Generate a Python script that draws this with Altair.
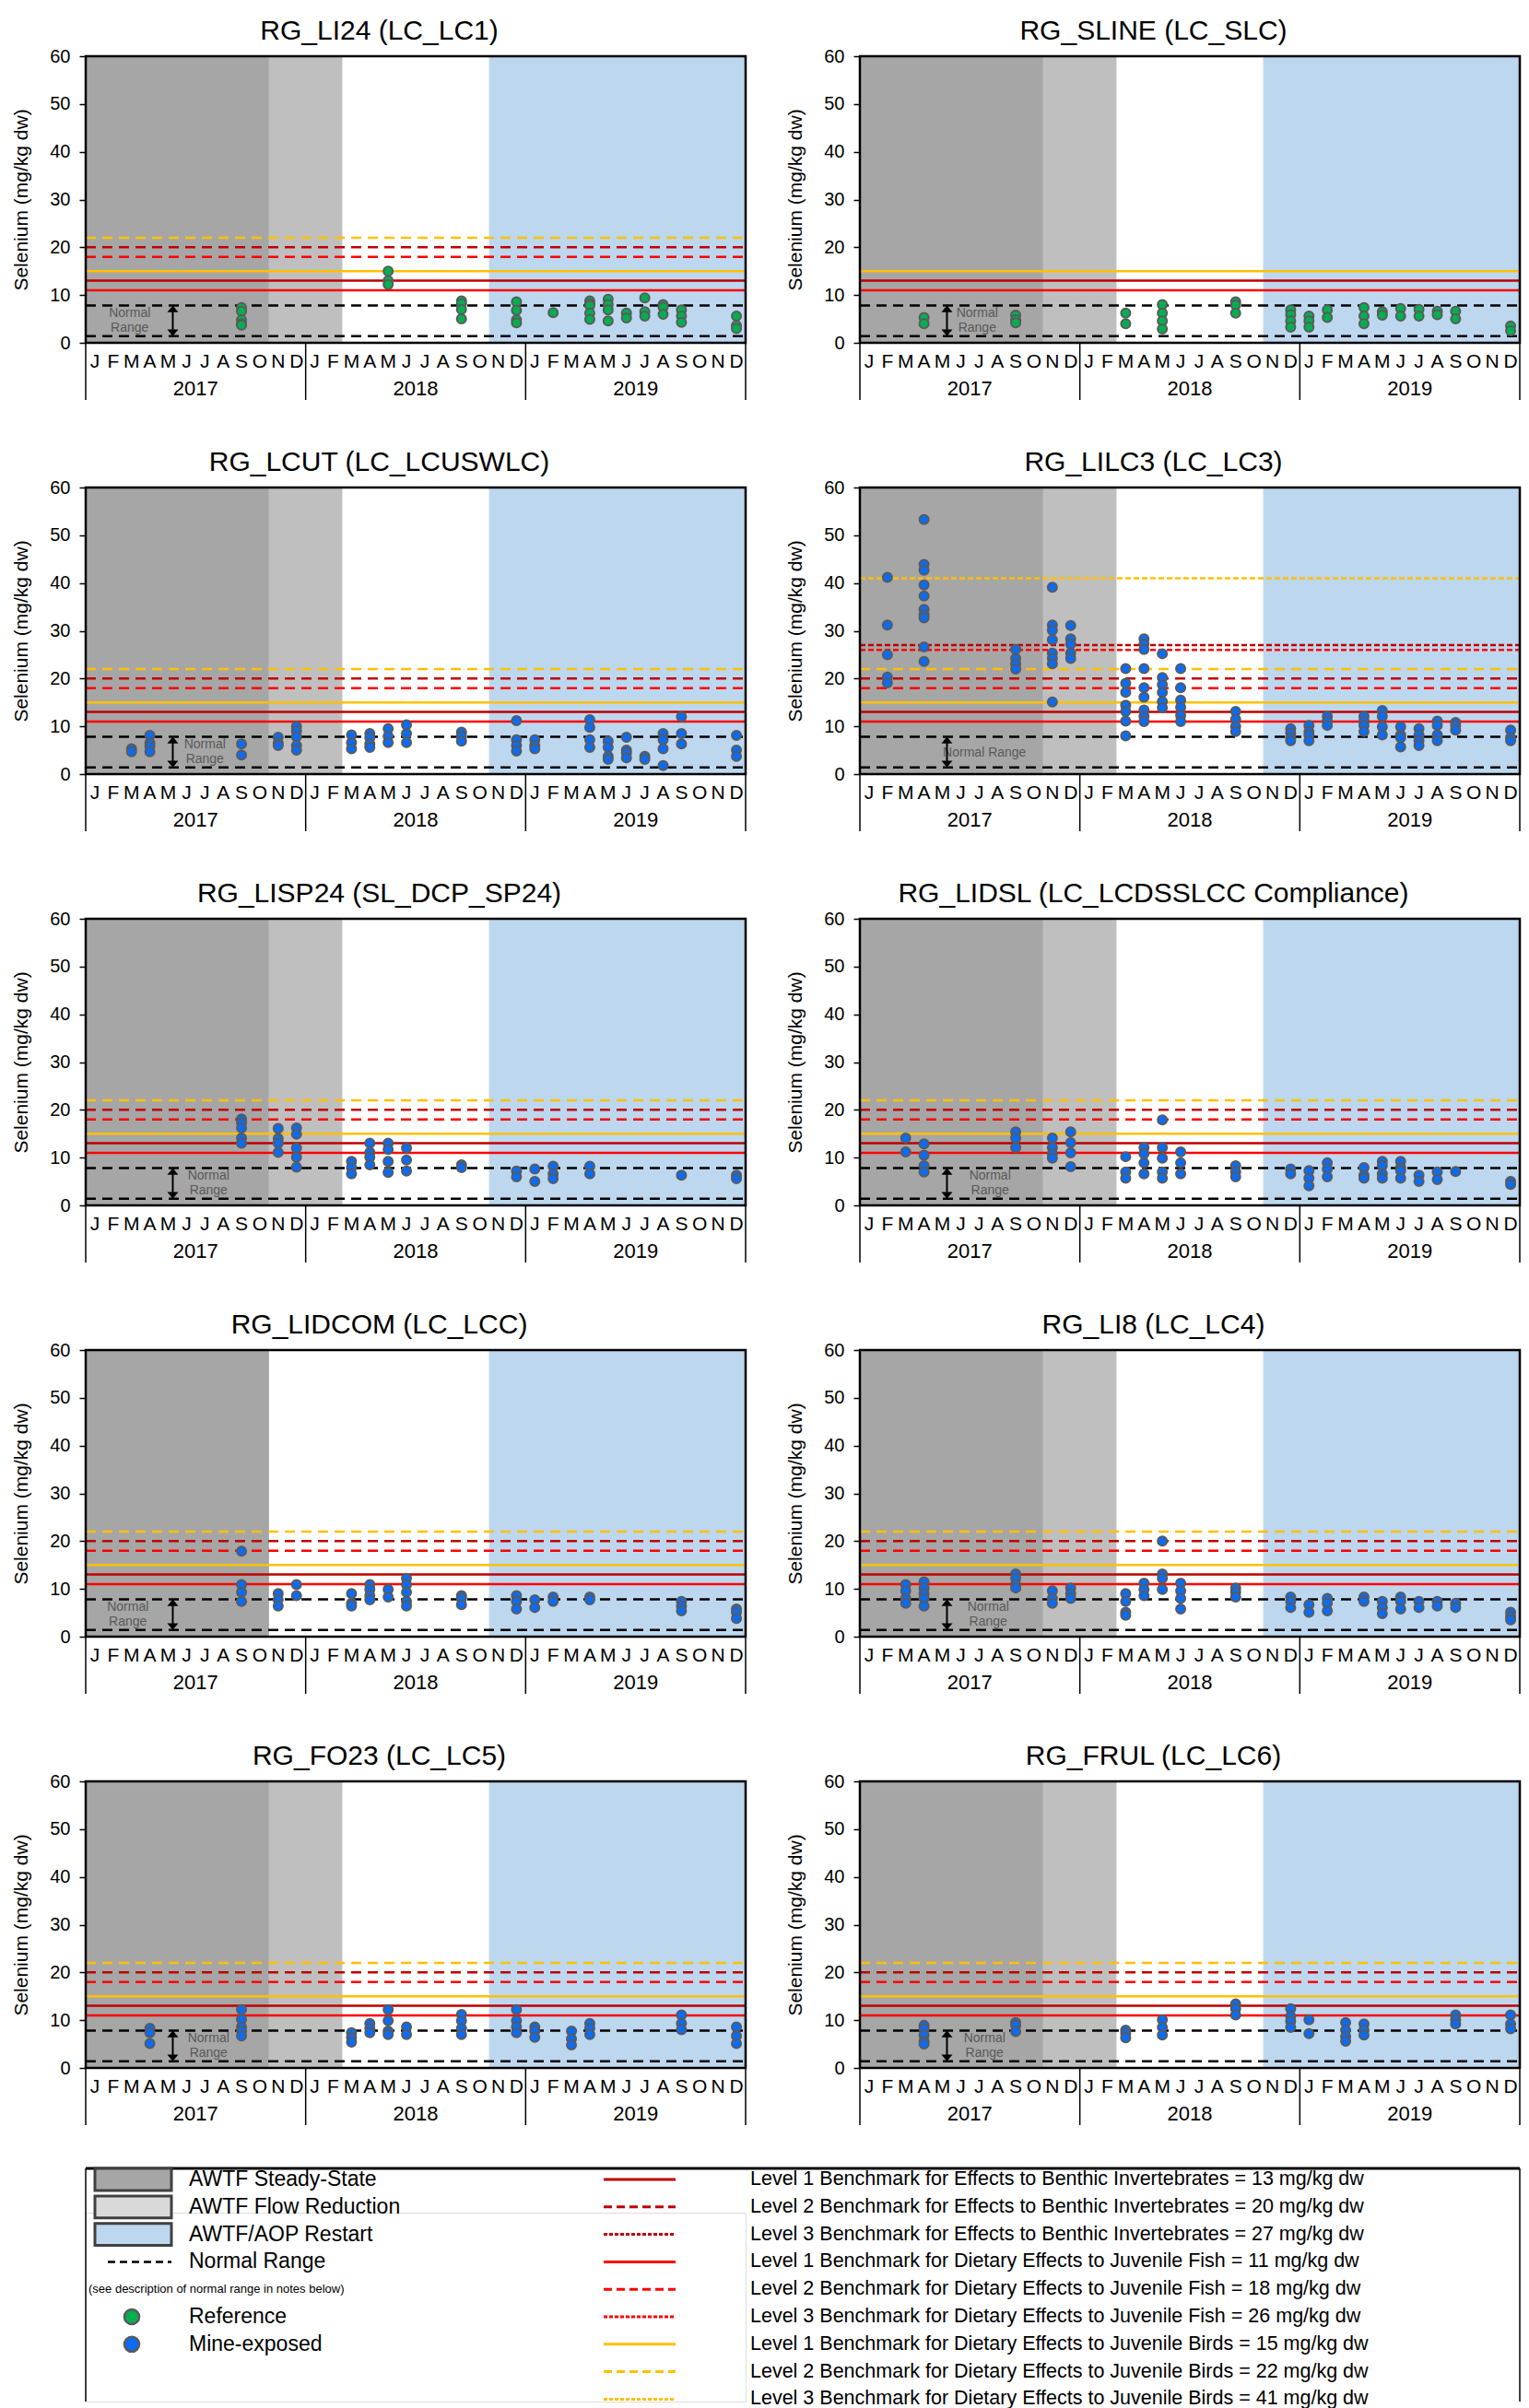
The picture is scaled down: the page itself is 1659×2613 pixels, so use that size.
import altair as alt
import pandas as pd

FONT = "Liberation Sans, Arial, Helvetica, sans-serif"
W, H = 716, 311

MONTH_LETTERS = ["J", "F", "M", "A", "M", "J", "J", "A", "S", "O", "N", "D"]
YEARS = ["2017", "2018", "2019"]
YEAR_CENTERS = [6, 18, 30]
YEAR_BOUNDS = [0, 12, 24, 36]
Y_TICKS = [0, 10, 20, 30, 40, 50, 60]

BAND_NAMES = ["AWTF Steady-State", "AWTF Flow Reduction", "AWTF/AOP Restart"]
BAND_COLORS = ["#A6A6A6", "#BFBFBF", "#BDD7EE"]
SWATCH_COLORS = ["#A6A6A6", "#D9D9D9", "#BDD7EE"]
BAND_START = [0, 10, 22]
BAND_END = [10, 14, 36]

BENCH_NAMES = ["B1", "B2", "B3", "F1", "F2", "F3", "R1", "R2", "R3"]
BENCH_VALUES = [13, 20, 27, 11, 18, 26, 15, 22, 41]
BENCH_COLORS = ["#C00000", "#C00000", "#C00000", "#FF0000", "#FF0000", "#FF0000",
                "#FFC000", "#FFC000", "#FFC000"]
BENCH_DASH = [[1, 0], [11, 7], [6, 3]] * 3
LEGEND_DASH = [[1, 0], [9, 5], [4, 2]] * 3
BENCH_LABELS = [
    "Level 1 Benchmark for Effects to Benthic Invertebrates = 13 mg/kg dw",
    "Level 2 Benchmark for Effects to Benthic Invertebrates = 20 mg/kg dw",
    "Level 3 Benchmark for Effects to Benthic Invertebrates = 27 mg/kg dw",
    "Level 1 Benchmark for Dietary Effects to Juvenile Fish = 11 mg/kg dw",
    "Level 2 Benchmark for Dietary Effects to Juvenile Fish = 18 mg/kg dw",
    "Level 3 Benchmark for Dietary Effects to Juvenile Fish = 26 mg/kg dw",
    "Level 1 Benchmark for Dietary Effects to Juvenile Birds  = 15 mg/kg dw",
    "Level 2 Benchmark for Dietary Effects to Juvenile Birds  = 22 mg/kg dw",
    "Level 3 Benchmark for Dietary Effects to Juvenile Birds  = 41 mg/kg dw",
]
L1 = [0, 3, 6]
L12 = [0, 1, 3, 4, 6, 7]
LALL = [0, 1, 2, 3, 4, 5, 6, 7, 8]

NORMAL_RANGE = [1.4, 7.8]
GROUP_NAMES = ["Reference", "Mine-exposed"]
GROUP_COLORS = ["#00B050", "#0A6CF5"]
POINT_STROKE = "#5A5A5A"

PANEL_TITLES = ["RG_LI24 (LC_LC1)", "RG_SLINE (LC_SLC)", "RG_LCUT (LC_LCUSWLC)",
                "RG_LILC3 (LC_LC3)", "RG_LISP24 (SL_DCP_SP24)",
                "RG_LIDSL (LC_LCDSSLCC Compliance)", "RG_LIDCOM (LC_LCC)",
                "RG_LI8 (LC_LC4)", "RG_FO23 (LC_LC5)", "RG_FRUL (LC_LC6)"]
PANEL_GROUP = [0, 0, 1, 1, 1, 1, 1, 1, 1, 1]
PANEL_BANDS = [[0, 1, 2]] * 6 + [[0, 2]] + [[0, 1, 2]] * 3
PANEL_BENCH = [L12, L1, L12, LALL, L12, L12, L12, L12, L12, L12]
NR_ARROW_X = 4.75
NR_TEXT_X = [2.4, 6.4, 6.5, 6.8, 6.7, 7.1, 2.3, 7.0, 6.7, 6.8]
NR_ONE_LINE = [False, False, False, True, False, False, False, False, False, False]

# month index: 0 = Jan 2017 ... 35 = Dec 2019
LI24_MONTHS = [8, 16, 20, 23, 25, 27, 28, 29, 30, 31, 32, 35]
LI24_VALUES = [[7.4, 6.6, 4.8, 4.0, 3.7], [15.0, 13.0, 12.2], [8.8, 8.2, 7.0, 5.0],
               [8.6, 6.8, 4.8, 4.2], [6.3], [8.8, 8.2, 7.8, 6.2, 4.9], [9.1, 8.0, 6.9, 4.6],
               [6.2, 5.2], [9.4, 6.5, 5.6], [8.0, 7.5, 6.0], [6.9, 5.6, 4.3], [5.6, 3.6, 3.0]]

SLINE_MONTHS = [3, 8, 14, 16, 20, 23, 24, 25, 27, 28, 29, 30, 31, 32, 35]
SLINE_VALUES = [[5.3, 4.0], [5.8, 4.8, 4.2], [6.2, 4.0], [8.0, 6.2, 4.6, 2.9], [8.6, 7.9, 6.2],
                [6.9, 5.9, 4.6, 3.3], [5.6, 4.6, 3.3], [6.9, 5.3], [7.4, 5.6, 4.0], [6.5, 5.8],
                [7.2, 5.6], [7.0, 5.6], [6.6, 5.9], [6.6, 5.0], [3.5, 2.5]]

LCUT_MONTHS = [2, 3, 8, 10, 11, 14, 15, 16, 17, 20, 23, 24, 27, 28, 29, 30, 31, 32, 35]
LCUT_VALUES = [[5.3, 4.7], [8.1, 6.5, 5.8, 4.7], [6.3, 4.0], [7.7, 6.5, 6.0],
               [10.0, 9.0, 7.8, 6.0, 5.0], [8.2, 6.6, 5.3], [8.5, 7.6, 6.3, 5.6], [9.5, 7.9, 6.6],
               [10.3, 8.5, 6.6], [8.8, 7.9, 6.9], [11.2, 7.2, 6.0, 4.8], [7.2, 6.0, 5.3],
               [11.4, 9.8, 7.2, 5.6], [6.9, 5.6, 3.7, 3.1], [7.7, 5.0, 4.4, 3.4], [3.7, 3.1],
               [8.5, 7.2, 5.3, 1.8], [12.0, 8.5, 6.3], [8.1, 5.0, 3.7]]

LILC3_MONTHS = [1, 3, 8, 10, 11, 14, 15, 16, 17, 20, 23, 24, 25, 27, 28, 29, 30, 31, 32, 35]
LILC3_VALUES = [[41.2, 31.2, 25.0, 20.3, 19.1],
                [53.3, 43.9, 42.7, 39.6, 37.3, 34.5, 33.4, 32.7, 26.6, 23.6],
                [26.1, 24.2, 23.1, 22.0],
                [39.1, 31.2, 30.1, 28.1, 25.3, 24.2, 23.1, 15.1],
                [31.1, 28.3, 27.2, 25.3, 24.2],
                [22.1, 19.0, 17.1, 14.4, 13.1, 11.1, 8.0],
                [28.3, 27.2, 26.1, 22.1, 18.1, 16.1, 13.4, 12.1, 11.0],
                [25.2, 20.2, 18.7, 17.1, 15.2, 13.9],
                [22.1, 18.1, 15.5, 14.0, 12.3, 11.0],
                [13.1, 11.5, 10.0, 8.9], [9.5, 8.6, 7.6, 7.0], [10.2, 8.9, 8.2, 7.0],
                [12.1, 11.1, 10.2], [12.1, 11.1, 10.2, 8.9], [13.3, 12.1, 9.9, 8.2],
                [9.9, 8.2, 7.6, 5.7], [9.5, 8.2, 7.0, 6.0], [11.1, 10.2, 8.2, 7.0],
                [10.8, 10.2, 9.2], [9.2, 7.6, 7.0]]

LISP24_MONTHS = [8, 10, 11, 14, 15, 16, 17, 20, 23, 24, 25, 27, 32, 35]
LISP24_VALUES = [[18.1, 17.3, 16.2, 14.1, 13.0], [16.1, 14.0, 13.0, 11.1],
                 [16.2, 14.9, 12.0, 10.1, 8.0], [9.2, 7.9, 6.6], [13.0, 11.1, 10.1, 8.5],
                 [13.0, 11.7, 9.2, 6.9], [12.0, 9.5, 7.2], [8.5, 7.9], [7.2, 6.0], [7.6, 5.0],
                 [8.2, 6.6, 5.6], [8.2, 6.6], [6.3], [6.3, 5.6]]

LIDSL_MONTHS = [2, 3, 8, 10, 11, 14, 15, 16, 17, 20, 23, 24, 25, 27, 28, 29, 30, 31, 32, 35]
LIDSL_VALUES = [[14.1, 11.2], [12.9, 10.5, 8.3, 7.0], [15.4, 14.1, 12.1], [14.1, 12.1, 10.8, 9.9],
                [15.4, 13.1, 11.0, 8.1], [10.2, 7.0, 5.7], [12.1, 10.8, 8.9, 6.6],
                [17.9, 12.1, 9.9, 7.0, 5.7], [11.2, 8.9, 6.6], [8.3, 7.0, 6.0], [7.6, 6.6],
                [7.3, 5.7, 4.1], [8.9, 7.6, 6.0], [7.9, 6.3, 5.7], [9.2, 8.3, 6.6, 5.7],
                [9.2, 7.9, 7.3, 5.7], [6.3, 5.0], [7.0, 5.4], [7.1], [5.0, 4.4]]

LIDCOM_MONTHS = [8, 10, 11, 14, 15, 16, 17, 20, 23, 24, 25, 27, 32, 35]
LIDCOM_VALUES = [[17.9, 10.9, 9.3, 7.4], [9.0, 7.7, 6.4], [10.9, 8.6], [9.0, 7.0, 6.4],
                 [10.9, 9.9, 8.6, 7.7], [9.9, 8.3], [12.2, 10.9, 9.3, 7.4, 6.4], [8.6, 8.0, 6.7],
                 [8.6, 7.4, 5.8], [7.7, 6.1], [8.3, 7.4], [8.3, 7.7], [7.4, 6.4, 5.4],
                 [5.8, 5.1, 3.8]]

LI8_MONTHS = [2, 3, 8, 10, 11, 14, 15, 16, 17, 20, 23, 24, 25, 27, 28, 29, 30, 31, 32, 35]
LI8_VALUES = [[10.9, 9.6, 8.0, 7.0], [11.5, 10.2, 9.0, 8.0, 6.4], [13.1, 12.2, 10.9, 10.2],
              [9.6, 8.0, 7.0], [10.2, 9.0, 8.0], [9.0, 7.4, 5.1, 4.5], [11.2, 9.9, 8.6],
              [20.0, 13.1, 12.2, 9.9], [11.2, 9.6, 8.0, 5.8], [10.2, 9.3, 8.3], [8.3, 7.4, 6.1],
              [6.7, 5.1], [8.0, 7.0, 5.4], [8.3, 7.4], [7.4, 6.1, 4.8], [8.3, 7.4, 5.8],
              [7.4, 6.1], [7.4, 6.4], [7.0, 6.1], [5.1, 4.2, 3.5]]

FO23_MONTHS = [3, 8, 14, 15, 16, 17, 20, 23, 24, 26, 27, 32, 35]
FO23_VALUES = [[8.3, 7.4, 5.1], [12.2, 10.2, 8.6, 7.7, 6.7], [7.4, 6.4, 5.4], [9.3, 8.3, 7.4],
               [12.2, 9.9, 7.7, 7.0], [8.6, 7.0], [11.2, 9.9, 8.3, 7.0], [12.2, 9.9, 8.6, 7.4],
               [8.6, 7.7, 6.4], [7.7, 6.1, 4.8], [9.3, 8.3, 7.0], [11.1, 9.3, 8.0],
               [8.6, 6.7, 5.1]]

FRUL_MONTHS = [3, 8, 14, 16, 20, 23, 24, 26, 27, 32, 35]
FRUL_VALUES = [[8.9, 8.2, 6.9, 5.6, 5.0], [9.5, 8.9, 7.6], [7.9, 7.2, 6.3], [10.1, 8.5, 6.9],
               [13.4, 12.4, 11.1], [12.4, 10.8, 9.8, 8.5], [10.1, 7.2], [9.5, 7.9, 6.6, 5.6],
               [9.2, 7.9, 6.9], [11.1, 10.1, 9.2], [11.1, 9.2, 8.2]]

PANEL_DATA = [(LI24_MONTHS, LI24_VALUES), (SLINE_MONTHS, SLINE_VALUES),
              (LCUT_MONTHS, LCUT_VALUES), (LILC3_MONTHS, LILC3_VALUES),
              (LISP24_MONTHS, LISP24_VALUES), (LIDSL_MONTHS, LIDSL_VALUES),
              (LIDCOM_MONTHS, LIDCOM_VALUES), (LI8_MONTHS, LI8_VALUES),
              (FO23_MONTHS, FO23_VALUES), (FRUL_MONTHS, FRUL_VALUES)]

ARROW_UP = "M-1,0.6L0,-0.6L1,0.6Z"
ARROW_DOWN = "M-1,-0.6L0,0.6L1,-0.6Z"


def make_panel(idx):
    months, values = PANEL_DATA[idx]
    xs = alt.Scale(domain=[0, 36], nice=False, zero=False)
    ys = alt.Scale(domain=[0, 60], nice=False, zero=False)
    yaxis = alt.Axis(values=Y_TICKS, title="Selenium (mg/kg dw)", grid=False,
                     tickSize=7, tickWidth=1.5, tickColor="black",
                     domainColor="black", domainWidth=2,
                     labelFont=FONT, labelFontSize=20, labelColor="black", labelPadding=10,
                     titleFont=FONT, titleFontSize=21, titleFontWeight="normal",
                     titleColor="black", titlePadding=20)

    def X(f):
        return alt.X(f, scale=xs, axis=None)

    def Y(f):
        return alt.Y(f, scale=ys, axis=yaxis)

    bids = PANEL_BANDS[idx]
    band_df = pd.DataFrame({"band": [BAND_NAMES[i] for i in bids],
                            "start": [BAND_START[i] for i in bids],
                            "end": [BAND_END[i] for i in bids]})
    bands = alt.Chart(band_df).mark_rect().encode(
        x=X("start:Q"), x2="end:Q", y=alt.value(0), y2=alt.value(H),
        fill=alt.Fill("band:N", scale=alt.Scale(domain=BAND_NAMES, range=BAND_COLORS),
                      legend=None))

    keys = PANEL_BENCH[idx]
    bench_df = pd.DataFrame({"name": [BENCH_NAMES[i] for i in keys],
                             "v": [BENCH_VALUES[i] for i in keys]})
    bench = alt.Chart(bench_df).mark_rule(strokeWidth=2.5).encode(
        y=Y("v:Q"), x=alt.value(0), x2=alt.value(W),
        color=alt.Color("name:N", scale=alt.Scale(domain=BENCH_NAMES, range=BENCH_COLORS),
                        legend=None),
        strokeDash=alt.StrokeDash("name:N",
                                  scale=alt.Scale(domain=BENCH_NAMES, range=BENCH_DASH),
                                  legend=None))

    lo, hi = NORMAL_RANGE
    nr = alt.Chart(pd.DataFrame({"v": NORMAL_RANGE})).mark_rule(
        color="black", strokeWidth=2.5, strokeDash=[11, 7]).encode(
        y=Y("v:Q"), x=alt.value(0), x2=alt.value(W))

    tx = NR_TEXT_X[idx]
    if NR_ONE_LINE[idx]:
        nr_text_df = pd.DataFrame({"x": [tx], "y": [(lo + hi) / 2 - 0.1], "t": ["Normal Range"]})
    else:
        nr_text_df = pd.DataFrame({"x": [tx, tx], "y": [hi - 1.7, lo + 1.6],
                                   "t": ["Normal", "Range"]})
    nr_text = alt.Chart(nr_text_df).mark_text(
        font=FONT, fontSize=14, color="#595959", align="center", baseline="middle").encode(
        x=X("x:Q"), y=Y("y:Q"), text="t:N")

    arrow = alt.Chart(pd.DataFrame({"x": [NR_ARROW_X], "a": [lo + 0.7], "b": [hi - 0.7]})).mark_rule(
        color="black", strokeWidth=2).encode(x=X("x:Q"), y=Y("a:Q"), y2="b:Q")
    head_up = alt.Chart(pd.DataFrame({"x": [NR_ARROW_X], "y": [hi - 0.7]})).mark_point(
        shape=ARROW_UP, filled=True, color="black", size=144, opacity=1).encode(
        x=X("x:Q"), y=Y("y:Q"))
    head_dn = alt.Chart(pd.DataFrame({"x": [NR_ARROW_X], "y": [lo + 0.7]})).mark_point(
        shape=ARROW_DOWN, filled=True, color="black", size=144, opacity=1).encode(
        x=X("x:Q"), y=Y("y:Q"))

    rows = []
    for m, vs in zip(months, values):
        for v in vs:
            rows.append({"m": m + 0.5, "v": v})
    pts = alt.Chart(pd.DataFrame(rows)).mark_circle(
        size=100, fill=GROUP_COLORS[PANEL_GROUP[idx]], stroke=POINT_STROKE,
        strokeWidth=2, opacity=1).encode(x=X("m:Q"), y=Y("v:Q"))

    month_df = pd.DataFrame({"m": [i + 0.5 for i in range(36)], "t": MONTH_LETTERS * 3})
    month_txt = alt.Chart(month_df).mark_text(
        font=FONT, fontSize=21, color="black", align="center", baseline="middle").encode(
        x=X("m:Q"), y=alt.value(H + 21), text="t:N")
    year_txt = alt.Chart(pd.DataFrame({"m": YEAR_CENTERS, "t": YEARS})).mark_text(
        font=FONT, fontSize=22, color="black", align="center", baseline="middle").encode(
        x=X("m:Q"), y=alt.value(H + 50), text="t:N")
    seps = alt.Chart(pd.DataFrame({"m": YEAR_BOUNDS})).mark_rule(
        color="black", strokeWidth=1.5).encode(x=X("m:Q"), y=alt.value(H), y2=alt.value(H + 62))

    frame = alt.Chart(pd.DataFrame({"a": [0]})).mark_rect(
        fillOpacity=0, stroke="black", strokeWidth=2.5).encode(
        x=alt.value(0), x2=alt.value(W), y=alt.value(0), y2=alt.value(H))

    return alt.layer(bands, bench, nr, nr_text, arrow, head_up, head_dn, pts,
                     month_txt, year_txt, seps, frame).properties(
        width=W, height=H,
        title=alt.TitleParams(PANEL_TITLES[idx], font=FONT, fontSize=30,
                              fontWeight="normal", color="black", offset=2,
                              anchor="middle", frame="bounds"))


panels = [make_panel(i) for i in range(10)]

# ---------------- legend ----------------
LEG_W_FULL = 2 * W + 124
LEG_H = 205
LEG_TOP = -48
ROW0 = -36
PITCH = 29.8
lys = alt.Scale(domain=[0, 8], range=[ROW0, ROW0 + 8 * PITCH])


def LY(f):
    return alt.Y(f, scale=lys, axis=None)


LEFT_LABELS = ["AWTF Steady-State", "AWTF Flow Reduction", "AWTF/AOP Restart", "Normal Range",
               "Reference", "Mine-exposed"]
LEFT_ROWS = [0, 1, 2, 3, 5, 6]
NOTE_LABEL = "(see description of normal range in notes below)"

border_top = alt.Chart(pd.DataFrame({"a": [0]})).mark_rule(color="black", strokeWidth=3).encode(
    x=alt.value(0), x2=alt.value(LEG_W_FULL), y=alt.value(LEG_TOP))
border_l = alt.Chart(pd.DataFrame({"a": [0]})).mark_rule(color="black", strokeWidth=1.5).encode(
    x=alt.value(0), y=alt.value(LEG_TOP), y2=alt.value(LEG_H))
border_r = alt.Chart(pd.DataFrame({"a": [0]})).mark_rule(color="black", strokeWidth=1.5).encode(
    x=alt.value(LEG_W_FULL), y=alt.value(LEG_TOP), y2=alt.value(LEG_H))

sw_df = pd.DataFrame({"band": BAND_NAMES, "row": [0, 1, 2]})
swatches = alt.Chart(sw_df).transform_calculate(
    a="datum.row - 0.4", b="datum.row + 0.4").mark_rect(
    stroke="#404040", strokeWidth=3).encode(
    x=alt.value(10), x2=alt.value(93), y=LY("a:Q"), y2="b:Q",
    fill=alt.Fill("band:N", scale=alt.Scale(domain=BAND_NAMES, range=SWATCH_COLORS),
                  legend=None))

left_txt = alt.Chart(pd.DataFrame({"t": LEFT_LABELS, "row": LEFT_ROWS})).mark_text(
    font=FONT, fontSize=23, color="black", align="left", baseline="middle").encode(
    x=alt.value(112), y=LY("row:Q"), text="t:N")
note_txt = alt.Chart(pd.DataFrame({"t": [NOTE_LABEL], "row": [4]})).mark_text(
    font=FONT, fontSize=13, color="black", align="left", baseline="middle").encode(
    x=alt.value(3), y=LY("row:Q"), text="t:N")
nr_sample = alt.Chart(pd.DataFrame({"row": [3]})).mark_rule(
    color="black", strokeWidth=2.5, strokeDash=[8, 5]).encode(
    x=alt.value(24), x2=alt.value(93), y=LY("row:Q"))
dot_ref = alt.Chart(pd.DataFrame({"g": [GROUP_NAMES[0]], "row": [5]})).mark_point(
    shape="circle", filled=True, size=260, fill=GROUP_COLORS[0], stroke=POINT_STROKE,
    strokeWidth=2.5, opacity=1).encode(x=alt.value(50), y=LY("row:Q"))
dot_mine = alt.Chart(pd.DataFrame({"g": [GROUP_NAMES[1]], "row": [6]})).mark_point(
    shape="circle", filled=True, size=260, fill=GROUP_COLORS[1], stroke=POINT_STROKE,
    strokeWidth=2.5, opacity=1).encode(x=alt.value(50), y=LY("row:Q"))

bl_df = pd.DataFrame({"name": BENCH_NAMES, "row": list(range(9)), "t": BENCH_LABELS})
bench_lines = alt.Chart(bl_df).mark_rule(strokeWidth=3).encode(
    x=alt.value(562), x2=alt.value(640), y=LY("row:Q"),
    color=alt.Color("name:N", scale=alt.Scale(domain=BENCH_NAMES, range=BENCH_COLORS),
                    legend=None),
    strokeDash=alt.StrokeDash("name:N", scale=alt.Scale(domain=BENCH_NAMES, range=LEGEND_DASH),
                              legend=None))
bench_txt = alt.Chart(bl_df).mark_text(
    font=FONT, fontSize=21.5, color="black", align="left", baseline="middle").encode(
    x=alt.value(721), y=LY("row:Q"), text="t:N")

legend = alt.layer(border_top, border_l, border_r, swatches, left_txt, note_txt, nr_sample,
                   dot_ref, dot_mine, bench_lines, bench_txt).properties(width=W, height=LEG_H)

chart = alt.concat(*panels, legend, columns=2, spacing={"row": 157, "column": 124},
                   bounds="flush").resolve_scale(
    fill="independent", color="independent", strokeDash="independent").properties(
    padding={"left": 4, "top": 10, "right": 0, "bottom": 0}).configure_view(
    strokeWidth=0).configure(font=FONT)

chart.save("out.html", embed_options={"renderer": "svg", "actions": False})
